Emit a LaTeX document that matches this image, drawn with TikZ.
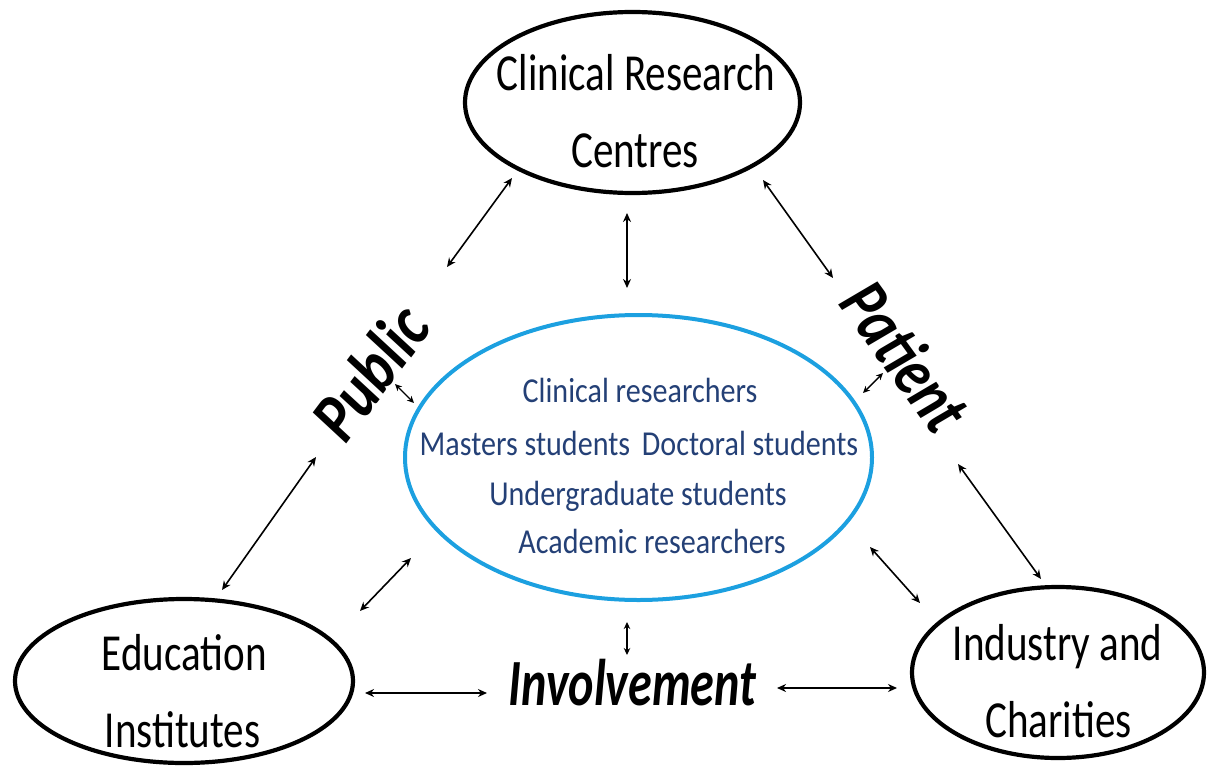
\documentclass[tikz,border=0pt]{standalone}
\usepackage{fontspec}
\setmainfont{Carlito}
\usepackage{graphicx}
\usetikzlibrary{shapes.geometric,arrows.meta}
\definecolor{ringblue}{RGB}{28,160,224}
\definecolor{textnavy}{RGB}{36,64,118}
\tikzset{
  bigoval/.style={ellipse, draw=black, line width=4.2pt, inner sep=0pt},
  blueoval/.style={ellipse, draw=ringblue, line width=4pt, inner sep=0pt},
  blacktext/.style={anchor=base, inner sep=0pt, font=\fontsize{52}{52}\selectfont},
  bluetext/.style={anchor=base, inner sep=0pt, text=textnavy, font=\fontsize{35}{35}\selectfont},
  sidetext/.style={inner sep=0pt, font=\fontsize{70}{70}\selectfont\bfseries\itshape},
  biarrow/.style={{Stealth[length=9pt,width=8pt]}-{Stealth[length=9pt,width=8pt]}, line width=1.6pt},
  smallarrow/.style={{Stealth[length=7pt,width=6.5pt]}-{Stealth[length=7pt,width=6.5pt]}, line width=1.4pt}
}
\newcommand{\cond}[1]{\scalebox{0.79}[1]{#1}}
\newcommand{\bcond}[1]{\scalebox{0.86}[1]{#1}}
\begin{document}
\begin{tikzpicture}[x=1pt,y=-1pt]
\useasboundingbox (0,0) rectangle (1207,768);
% ellipses
\node[bigoval, minimum width=335pt, minimum height=181pt] (crc) at (632.5,102.5) {};
\node[bigoval, minimum width=338pt, minimum height=164pt] (edu) at (184,681) {};
\node[bigoval, minimum width=292pt, minimum height=171pt] (ind) at (1058,672.5) {};
\node[blueoval, minimum width=467pt, minimum height=285pt] (core) at (638.5,457.5) {};
% black texts
\node[blacktext] (crc1) at (636,90.7) {\cond{Clinical Research}};
\node[blacktext] (crc2) at (635,167) {\cond{Centres}};
\node[blacktext] (edu1) at (184.5,670) {\cond{Education}};
\node[blacktext] (edu2) at (182.5,747) {\cond{Institutes}};
\node[blacktext] (ind1) at (1057.5,660) {\cond{Industry and}};
\node[blacktext] (ind2) at (1058.5,737) {\cond{Charities}};
\node[anchor=base, inner sep=0pt, font=\fontsize{66}{66}\selectfont\bfseries\itshape] (inv) at (632.5,705) {\scalebox{0.73}[1]{Involvement}};
\node[sidetext, rotate=53] (pub) at (370,372) {\scalebox{0.84}[1]{Public}};
\node[sidetext, rotate=-54] (pat) at (906,356) {\scalebox{0.79}[1]{Patient}};
% blue texts
\node[bluetext] (b1) at (640,402) {\bcond{Clinical researchers}};
\node[bluetext] (b2) at (639,455) {\bcond{Masters students\, Doctoral students}};
\node[bluetext] (b3) at (638,505) {\bcond{Undergraduate students}};
\node[bluetext] (b4) at (652,553) {\bcond{Academic researchers}};
% arrow end points
\coordinate (a1s) at (512,178); \coordinate (a1e) at (447,267);
\coordinate (a2s) at (627,213); \coordinate (a2e) at (627,288);
\coordinate (a3s) at (763,180); \coordinate (a3e) at (833,278);
\coordinate (a4s) at (883,373); \coordinate (a4e) at (863,393);
\coordinate (a5s) at (395,384); \coordinate (a5e) at (414,403);
\coordinate (a6s) at (316,457); \coordinate (a6e) at (222,590);
\coordinate (a7s) at (411,558); \coordinate (a7e) at (360,611);
\coordinate (a8s) at (958,464); \coordinate (a8e) at (1041,579);
\coordinate (a9s) at (870,547); \coordinate (a9e) at (920,603);
\coordinate (a10s) at (627,622); \coordinate (a10e) at (627,655);
\coordinate (a11s) at (365,693); \coordinate (a11e) at (487,693);
\coordinate (a12s) at (777,688); \coordinate (a12e) at (897,688);
% arrows
\draw[biarrow] (a1s) -- (a1e);
\draw[biarrow, line width=2pt] (a2s) -- (a2e);
\draw[biarrow] (a3s) -- (a3e);
\draw[smallarrow] (a4s) -- (a4e);
\draw[smallarrow] (a5s) -- (a5e);
\draw[biarrow] (a6s) -- (a6e);
\draw[biarrow] (a7s) -- (a7e);
\draw[biarrow] (a8s) -- (a8e);
\draw[biarrow] (a9s) -- (a9e);
\draw[smallarrow] (a10s) -- (a10e);
\draw[biarrow, line width=2pt] (a11s) -- (a11e);
\draw[biarrow, line width=2pt] (a12s) -- (a12e);
\end{tikzpicture}
\end{document}
